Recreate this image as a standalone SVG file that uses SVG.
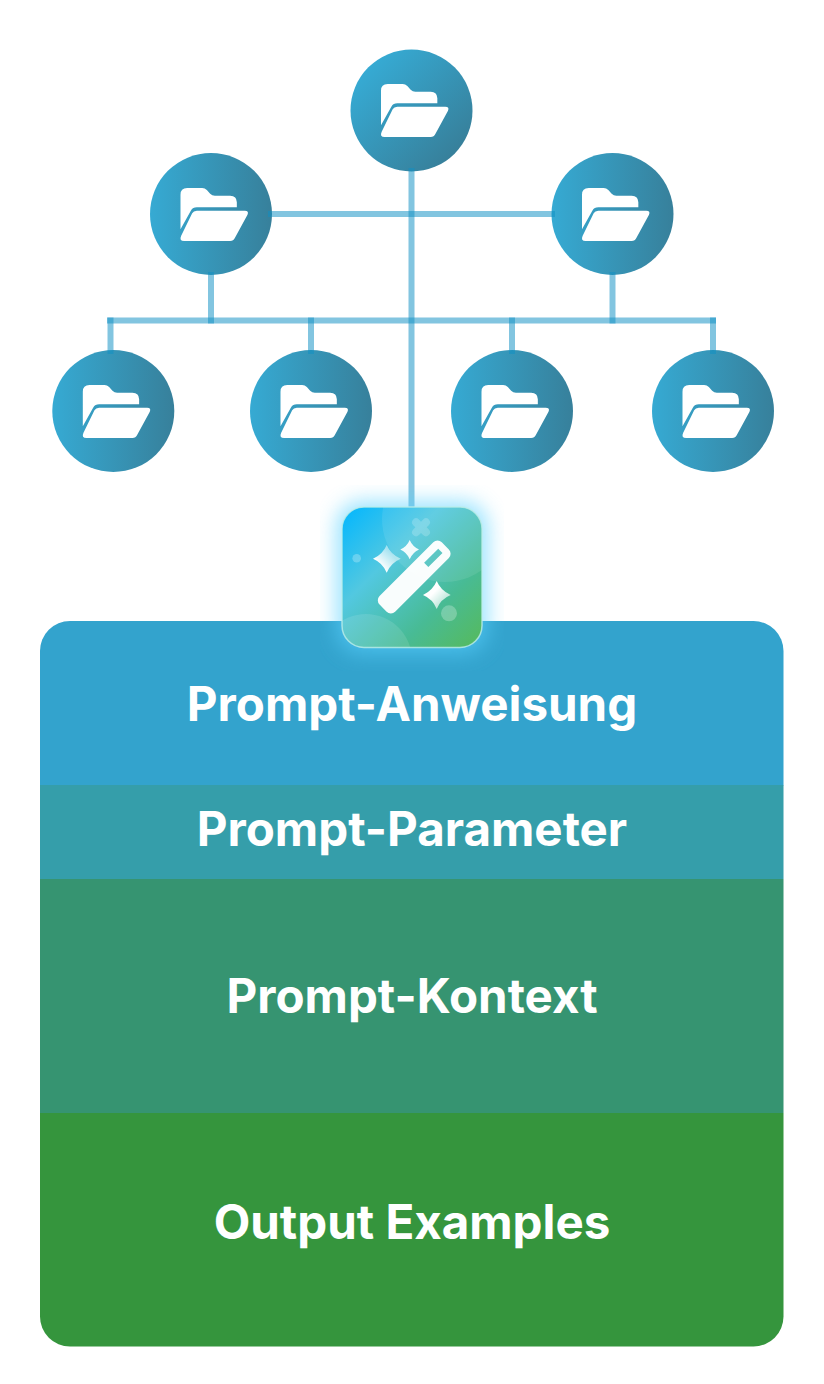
<svg xmlns="http://www.w3.org/2000/svg" width="824" height="1384" viewBox="0 0 824 1384">
<style>
.c{fill:url(#cg)}
.f{fill:#fff}
.l{stroke:#0f90c4;stroke-opacity:.52;stroke-width:6;fill:none}
.t{font-family:Inter,"Liberation Sans",sans-serif;font-weight:700;font-size:47.500px;fill:#fff;text-anchor:middle}
</style>
<defs>
<linearGradient id="cg" x1="0" y1="0" x2="1" y2="0"><stop offset="0" stop-color="#36aad3"/><stop offset="1" stop-color="#37809b"/></linearGradient>
<linearGradient id="cd" x1=".15" y1=".15" x2=".85" y2=".85"><stop offset="0" stop-color="#36aad3"/><stop offset="1" stop-color="#37809b"/></linearGradient>
<linearGradient id="tg" x1="0" y1="0" x2="1" y2="1"><stop offset="0" stop-color="#00b6ff"/><stop offset=".35" stop-color="#52c8e0"/><stop offset=".7" stop-color="#48bb95"/><stop offset="1" stop-color="#56ba5a"/></linearGradient>
<linearGradient id="sg" x1="1" y1="0" x2="0" y2="1"><stop offset=".3" stop-color="#fff" stop-opacity=".5"/><stop offset=".75" stop-color="#fff"/></linearGradient>
<linearGradient id="sg2" x1="0" y1="0" x2="1" y2="1"><stop offset=".4" stop-color="#fff"/><stop offset="1" stop-color="#fff" stop-opacity=".4"/></linearGradient>
<filter id="glow" filterUnits="userSpaceOnUse" x="320" y="485" width="184" height="186"><feGaussianBlur stdDeviation="10"/></filter>
<clipPath id="tc"><rect x="342" y="507" width="140" height="140.500" rx="22"/></clipPath>
<clipPath id="pc"><rect x="40" y="621" width="743.500" height="725.500" rx="30"/></clipPath>
<path id="fo" d="M123 152Q123 132 143 132H188Q196 132 202 138L212 149Q218 155 226 155H272Q292 155 292 175V190H172Q160 190 154 200L123 256ZM172 200H316Q329 200 324 212L286 282Q282 291 272 291H134Q118 291 125 275L158 208Q162 200 172 200Z" class="f" transform="scale(.3333) translate(-214.500 -210)"/>
</defs>
<g id="node-root"><circle cx="411.500" cy="110.500" r="61" fill="url(#cd)"/><use href="#fo" x="411.500" y="110"/></g>
<g id="node-l"><circle cx="211" cy="214" r="61" class="c"/><use href="#fo" x="211" y="214"/></g>
<g id="node-r"><circle cx="612.500" cy="214" r="61" class="c"/><use href="#fo" x="612.500" y="214"/></g>
<g id="node-1"><circle cx="113.300" cy="411" r="61" class="c"/><use href="#fo" x="113.300" y="411"/></g>
<g id="node-2"><circle cx="311" cy="411" r="61" class="c"/><use href="#fo" x="311" y="411"/></g>
<g id="node-3"><circle cx="512" cy="411" r="61" class="c"/><use href="#fo" x="512" y="411"/></g>
<g id="node-4"><circle cx="713" cy="411" r="61" class="c"/><use href="#fo" x="713" y="411"/></g>
<g id="connectors">
<path class="l" d="M411.500 168V507"/>
<path class="l" d="M268 214H555"/>
<path class="l" d="M107 320.500H716"/>
<path class="l" d="M110.500 317.500V354"/>
<path class="l" d="M211 272V323.500"/>
<path class="l" d="M311 317.500V354"/>
<path class="l" d="M512 317.500V354"/>
<path class="l" d="M612.500 272V323.500"/>
<path class="l" d="M713 317.500V354"/>
</g>
<g id="prompt-stack">
<g clip-path="url(#pc)">
<rect x="40" y="621" width="744" height="164.500" fill="#33a3cd"/>
<rect x="40" y="785" width="744" height="94" fill="#359eaa"/>
<rect x="40" y="879" width="744" height="234" fill="#369471"/>
<rect x="40" y="1113" width="744" height="234" fill="#35953d"/>
</g>
<text class="t" x="412" y="720.500">Prompt-Anweisung</text>
<text class="t" x="412" y="845.500">Prompt-Parameter</text>
<text class="t" x="412" y="1012.500">Prompt-Kontext</text>
<text class="t" x="412" y="1238.500">Output Examples</text>
</g>
<g id="wand">
<rect x="336" y="501" width="152" height="153" rx="26" fill="#5ad2ff" opacity=".6" filter="url(#glow)"/>
<g clip-path="url(#tc)">
<rect x="342" y="507" width="140" height="141" fill="url(#tg)"/>
<circle cx="445" cy="519" r="63" fill="#fff" opacity=".09"/>
<circle cx="366" cy="660" r="46" fill="#fff" opacity=".11"/>
</g>
<rect x="342" y="507" width="140" height="140.500" rx="22" fill="none" stroke="#bdeee8" stroke-width="1.500" stroke-opacity=".8"/>
<circle cx="356.700" cy="558.300" r="4.300" fill="#fff" opacity=".25"/>
<circle cx="449" cy="613.300" r="8" fill="#fff" opacity=".25"/>
<g transform="translate(421 527.300) rotate(45)" fill="#fff" opacity=".2"><path d="M-4 -7a4 4 0 0 1 8 0V-4H7a4 4 0 0 1 0 8H4V7a4 4 0 0 1-8 0V4H-7a4 4 0 0 1 0-8H-4Z"/></g>
<path d="M386.700 545Q390.700 554.500 400.700 558.800Q390.700 563 386.700 572.700Q382.700 563 373 558.800Q382.700 554.500 386.700 545Z" fill="url(#sg)"/>
<path d="M409.700 540Q412.500 546.500 419 549.500Q412.500 552.500 409.700 559.300Q407 552.500 400.300 549.500Q407 546.500 409.700 540Z" fill="#fff" fill-opacity=".92"/>
<path d="M436.700 581Q440.700 590.500 450.700 595Q440.700 599 436.700 609Q432.700 599 423 595Q432.700 590.500 436.700 581Z" fill="url(#sg2)"/>
<path transform="translate(414.200 577) rotate(-45)" fill-rule="evenodd" fill="#fff" fill-opacity=".97" d="M-38 -11H38a6 6 0 0 1 6 6V5a6 6 0 0 1-6 6H-38a6 6 0 0 1-6-6V-5a6 6 0 0 1 6-6ZM17 -3V3H37V-3Z"/>
</g>
</svg>
